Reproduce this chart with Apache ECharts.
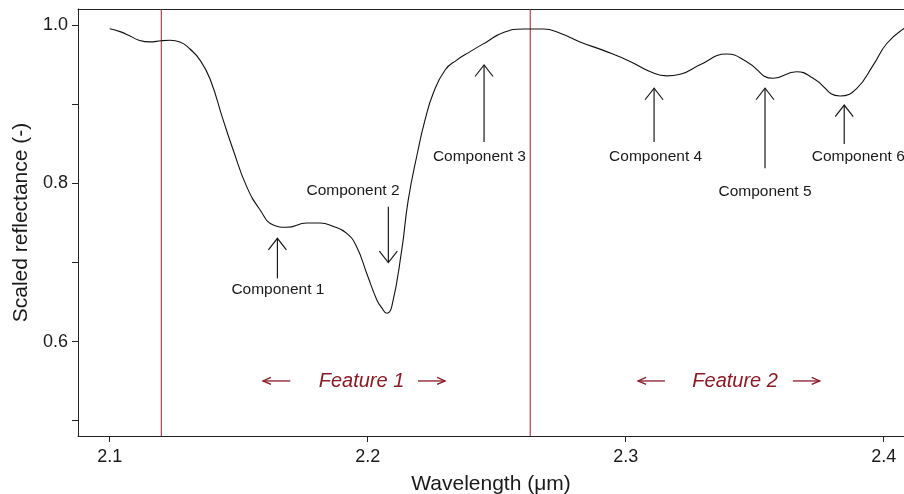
<!DOCTYPE html>
<html>
<head>
<meta charset="utf-8">
<script src="https://cdn.jsdelivr.net/npm/echarts@6/dist/echarts.min.js"></script>
<style>html,body{margin:0;padding:0;background:#fff;}#c{width:904px;height:494px;}</style>
</head>
<body>
<div id="c"></div>
<script>
// ---- data ----
const wavelength = [2.1000,2.1040,2.1079,2.1111,2.1156,2.1200,2.1234,2.1272,2.1311,2.1350,2.1389,2.1440,2.1479,2.1531,2.1583,2.1634,2.1686,2.1764,2.1815,2.1865,2.1919,2.1957,2.1996,2.2035,2.2054,2.2074,2.2093,2.2132,2.2157,2.2195,2.2222,2.2254,2.2300,2.2345,2.2397,2.2461,2.2524,2.2603,2.2681,2.2746,2.2823,2.2926,2.3019,2.3096,2.3159,2.3211,2.3288,2.3391,2.3469,2.3572,2.3663,2.3727,2.3831,2.3895,2.3960,2.4012,2.4079,2.4120];
const reflectance = [0.9957,0.992,0.9865,0.9814,0.979,0.9805,0.981,0.979,0.970,0.956,0.932,0.880,0.842,0.796,0.7665,0.7475,0.7446,0.750,0.750,0.746,0.737,0.720,0.6865,0.653,0.643,0.636,0.644,0.716,0.779,0.842,0.880,0.914,0.9435,0.956,0.9667,0.979,0.9906,0.9953,0.9953,0.990,0.979,0.9667,0.954,0.9413,0.936,0.938,0.950,0.9637,0.954,0.933,0.9413,0.933,0.9106,0.920,0.950,0.977,0.996,1.002];
const featureBounds = [2.12, 2.263];
const xTicks = [2.1, 2.2, 2.3, 2.4];
const yTicks = [0.5, 0.6, 0.7, 0.8, 0.9, 1.0];
const yLabels = [0.6, 0.8, 1.0];

// component annotations: arrow x, tail y, head y, label x, label y, label align
const compNames  = ['Component 1','Component 2','Component 3','Component 4','Component 5','Component 6'];
const compArrowX = [2.1650, 2.2080, 2.2451, 2.3110, 2.3540, 2.3847];
const compTailY  = [0.680, 0.7707, 0.8525, 0.8525, 0.8192, 0.850];
const compHeadY  = [0.7307, 0.700, 0.9498, 0.9204, 0.9204, 0.8992];
const compLabelX = [2.1652, 2.1943, 2.2433, 2.3116, 2.3540, 2.3721];
const compLabelY = [0.666, 0.7913, 0.8343, 0.8343, 0.790, 0.8343];
const compAlign  = ['center','center','center','center','center','left'];

// feature annotations
const featNames   = ['Feature 1','Feature 2'];
const featTextX   = [2.1976, 2.3424];
const featY       = [0.5503, 0.5503];
const featLeftArrow  = [[2.1700, 2.1594],[2.3152, 2.3048]];
const featRightArrow = [[2.2195, 2.2300],[2.3648, 2.3752]];

const FONT = '"Liberation Sans", Arial, Helvetica, sans-serif';
const INK = '#1a1a1a';
const RED = '#a3333d';
const FEAT = '#8a1a24';

function arrowShape(p1, p2, L, W, color, lw) {
  const dx = p2[0]-p1[0], dy = p2[1]-p1[1];
  const len = Math.sqrt(dx*dx+dy*dy) || 1;
  const ux = dx/len, uy = dy/len, nx = -uy, ny = ux;
  const a = [p2[0]-ux*L+nx*W, p2[1]-uy*L+ny*W];
  const b = [p2[0]-ux*L-nx*W, p2[1]-uy*L-ny*W];
  return [
    {type:'line', shape:{x1:p1[0],y1:p1[1],x2:p2[0],y2:p2[1]}, style:{stroke:color,lineWidth:lw}},
    {type:'polyline', shape:{points:[a,p2,b]}, style:{stroke:color,lineWidth:lw,fill:null}}
  ];
}

const X_MIN = 2.08771, X_MAX = 2.40787;
const Y_MIN = 0.4807, Y_MAX = 1.0206;
const compData = compNames.map((n,i)=>[compArrowX[i], compHeadY[i]]);
const featData = featNames.map((n,i)=>[featTextX[i], featY[i]]);
const boundData = featureBounds.map(v=>[v, Y_MIN]);

const chart = echarts.init(document.getElementById('c'), null, {renderer:'canvas'});
chart.setOption({
  animation:false,
  backgroundColor:'#fff',
  grid:{left:78, top:9, right:0, bottom:58, show:false, containLabel:false, outerBoundsMode:'none'},
  xAxis:[{
    type:'value', min:X_MIN, max:X_MAX, position:'bottom',
    name:'Wavelength (μm)', nameLocation:'middle', nameGap:38,
    nameTextStyle:{fontFamily:FONT, fontSize:21, color:INK},
    axisLine:{show:true, lineStyle:{color:'#222', width:1}},
    axisTick:{show:true, length:6, inside:false, customValues:xTicks, lineStyle:{color:'#222'}},
    axisLabel:{customValues:xTicks, margin:12, fontFamily:FONT, fontSize:18, color:INK, formatter:v=>v.toFixed(1)},
    splitLine:{show:false}
  },{
    type:'value', min:X_MIN, max:X_MAX, position:'top',
    axisLine:{show:true, lineStyle:{color:'#222', width:1}},
    axisTick:{show:false}, axisLabel:{show:false}, splitLine:{show:false}
  }],
  yAxis:{
    type:'value', min:Y_MIN, max:Y_MAX,
    name:'Scaled reflectance (-)', nameLocation:'middle', nameGap:46,
    nameTextStyle:{fontFamily:FONT, fontSize:21, color:INK},
    axisLine:{show:true, lineStyle:{color:'#222', width:1}},
    axisTick:{show:true, length:6, inside:false, customValues:yTicks, lineStyle:{color:'#222'}},
    axisLabel:{customValues:yLabels, margin:10, fontFamily:FONT, fontSize:18, color:INK, formatter:v=>v.toFixed(1)},
    splitLine:{show:false}
  },
  series:[
    {
      type:'custom', data:boundData, clip:true, z:2,
      renderItem:function(params, api){
        const i = params.dataIndex;
        const p1 = api.coord([featureBounds[i], Y_MIN]);
        const p2 = api.coord([featureBounds[i], Y_MAX]);
        return {type:'line', shape:{x1:p1[0],y1:p1[1],x2:p2[0],y2:p2[1]}, style:{stroke:RED, lineWidth:1.1}};
      }
    },
    {
      type:'line', data:wavelength.map((w,i)=>[w, reflectance[i]]),
      smooth:0.5, showSymbol:false, symbol:'none',
      lineStyle:{color:'#111', width:1.1}, clip:true, z:3
    },
    {
      type:'custom', data:compData, clip:false, z:4,
      renderItem:function(params, api){
        const i = params.dataIndex;
        const p1 = api.coord([compArrowX[i], compTailY[i]]);
        const p2 = api.coord([compArrowX[i], compHeadY[i]]);
        const pl = api.coord([compLabelX[i], compLabelY[i]]);
        const ch = arrowShape(p1, p2, 11.5, 9, '#1a1a1a', 1.2);
        ch.push({type:'text', style:{text:compNames[i], x:pl[0], y:pl[1], align:compAlign[i], verticalAlign:'middle', fontFamily:FONT, fontSize:15.5, fill:INK}});
        return {type:'group', children:ch};
      }
    },
    {
      type:'custom', data:featData, clip:false, z:4,
      renderItem:function(params, api){
        const i = params.dataIndex;
        const pt = api.coord([featTextX[i], featY[i]]);
        const la0 = api.coord([featLeftArrow[i][0], featY[i]]);
        const la1 = api.coord([featLeftArrow[i][1], featY[i]]);
        const ra0 = api.coord([featRightArrow[i][0], featY[i]]);
        const ra1 = api.coord([featRightArrow[i][1], featY[i]]);
        let ch = [];
        ch = ch.concat(arrowShape(la0, la1, 8, 3.5, FEAT, 1.3));
        ch = ch.concat(arrowShape(ra0, ra1, 8, 3.5, FEAT, 1.3));
        ch.push({type:'text', style:{text:featNames[i], x:pt[0], y:pt[1], align:'center', verticalAlign:'middle', fontFamily:FONT, fontSize:20, fontStyle:'italic', fill:FEAT}});
        return {type:'group', children:ch};
      }
    }
  ]
});
</script>
</body>
</html>
